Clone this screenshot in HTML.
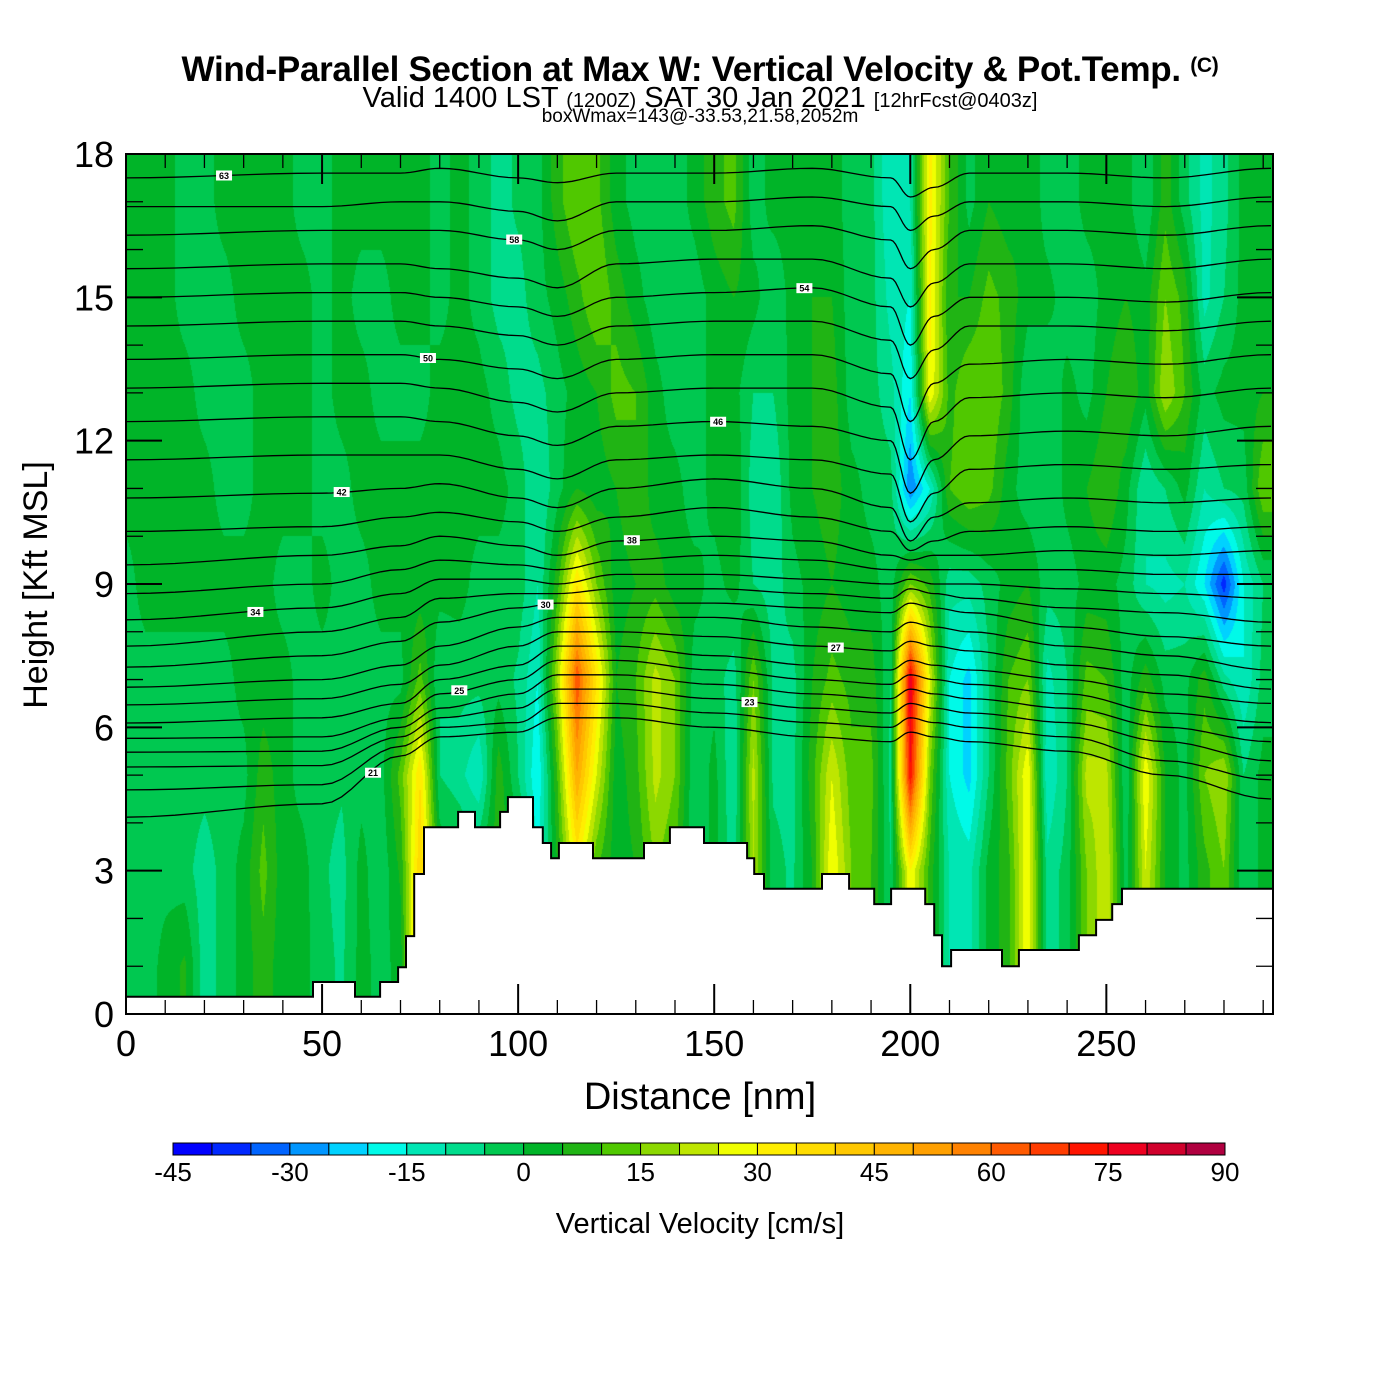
<!DOCTYPE html>
<html><head><meta charset="utf-8">
<style>
html,body{margin:0;padding:0;background:#fff;}
body{width:1400px;height:1400px;position:relative;overflow:hidden;font-family:"Liberation Sans",Arial,sans-serif;}
.t{position:absolute;white-space:nowrap;color:#000;}
</style></head>
<body>
<div class="t" style="left:0;width:1400px;top:50px;text-align:center;font-weight:bold;font-size:35px;letter-spacing:-0.3px;">Wind-Parallel Section at Max W: Vertical Velocity &amp; Pot.Temp. <span style="font-size:21px;vertical-align:9px;">(C)</span></div>
<div class="t" style="left:0;width:1400px;top:82px;text-align:center;font-size:29px;line-height:32px;">Valid 1400 LST <span style="font-size:20px">(1200Z)</span> SAT 30 Jan 2021 <span style="font-size:20px">[12hrFcst@0403z]</span></div>
<div class="t" style="left:0;width:1400px;top:107px;text-align:center;font-size:19px;line-height:20px;">boxWmax=143@-33.53,21.58,2052m</div>

<svg id="chart" width="1400" height="1400" style="position:absolute;left:0;top:0" xmlns="http://www.w3.org/2000/svg">
  <foreignObject x="126" y="154" width="1147" height="860"><canvas id="field" width="1147" height="860" xmlns="http://www.w3.org/1999/xhtml"></canvas></foreignObject>
  <g id="isentropes"></g>
  <g id="terrain"></g>
  <g id="ticks"></g>
  <rect x="126" y="154" width="1147" height="860" fill="none" stroke="#000" stroke-width="2"/>
  <g id="labels" font-family="Liberation Sans, Arial, sans-serif"></g>
  <g id="colorbar"></g>
  <text x="700" y="1109" text-anchor="middle" font-size="38" font-family="Liberation Sans, Arial, sans-serif">Distance [nm]</text>
  <text x="0" y="0" transform="translate(47,585) rotate(-90)" text-anchor="middle" font-size="34" font-family="Liberation Sans, Arial, sans-serif">Height [Kft MSL]</text>
  <text x="700" y="1233" text-anchor="middle" font-size="29" font-family="Liberation Sans, Arial, sans-serif">Vertical Velocity [cm/s]</text>
</svg>

<script>
// ---- data ----
const distances = [0,5,10,15,20,25,30,35,40,45,50,55,60,65,70,75,80,85,90,95,100,105,110,115,120,125,130,135,140,145,150,155,160,165,170,175,180,185,190,195,200,205,210,215,220,225,230,235,240,245,250,255,260,265,270,275,280,285,290];
const heights = [1,3,5,7,9,11,13,15,17];
// vertical velocity (cm/s) per distance column, values at the heights above
const wByDistance = [
[-2,-2,-2,-2,-2,2,2,2,2],[-3,-2,-2,-2,2,2,2,2,2],[2,-2,-2,-2,2,2,2,2,2],[6,-3,-2,-2,2,2,2,-2,-2],
[-8,-8,-3,-2,2,2,-2,-2,-2],[-3,-3,-2,-2,2,-2,-2,-2,2],[2,2,-2,2,2,-2,-2,2,2],[8,12,8,2,2,2,2,2,2],
[2,2,2,2,-2,2,2,2,2],[2,2,-2,-2,-2,2,2,2,-2],[-3,-4,-3,-2,2,-2,-2,-2,-2],[-6,-7,-4,-2,-2,-2,2,2,2],
[2,2,-2,-2,-2,2,2,-2,2],[-2,-4,-2,-2,2,2,-2,-2,2],[2,6,12,-2,2,2,-2,2,2],[45,40,35,12,2,2,-2,2,2],
[5,5,-5,-5,2,2,2,-2,-2],[2,2,-8,-3,2,2,2,2,2],[2,2,-15,-3,-2,2,2,-2,-2],[8,8,8,-2,-2,2,-2,-7,-7],
[5,5,-5,-6,-2,-2,-7,-7,-4],[-15,-15,-20,-15,-10,-10,-7,-2,-2],[5,5,10,20,8,-2,-2,2,8],[30,30,50,65,35,5,2,8,15],
[10,10,25,35,15,2,5,15,12],[2,2,2,5,2,5,12,8,2],[5,5,8,10,5,10,10,2,-2],[15,15,22,22,8,2,2,-3,-3],
[10,10,15,15,2,2,-3,-3,-3],[-5,-5,-5,-3,2,-3,-3,-3,2],[2,2,2,-2,-2,2,2,2,8],[-8,-8,-10,-8,2,5,2,5,12],
[20,20,22,15,-5,-8,-5,2,-3],[-3,-3,-6,-6,-8,-10,-5,-4,2],[-6,-6,-7,-7,-2,2,2,2,2],[5,5,8,5,2,5,5,5,2],
[30,30,25,12,5,8,8,5,2],[15,15,12,8,2,2,-3,-3,-2],[10,10,12,8,2,-2,-3,-3,-3],[-5,-5,-7,-5,-3,-3,-8,-12,-15],
[30,30,75,80,15,-30,-20,-15,-10],[8,8,15,25,8,-15,30,32,32],[-10,-10,-15,-15,-8,10,8,5,10],[-12,-12,-22,-22,-8,15,15,5,-2],
[2,2,-5,-5,-3,12,15,12,5],[8,8,12,10,2,2,8,8,2],[30,30,30,15,5,-3,-5,2,5],[-8,-8,-15,-12,-3,-5,-5,2,-3],
[-3,-3,-5,-5,-3,2,2,-3,-3],[15,15,22,12,2,5,-2,-3,2],[25,25,22,10,2,10,5,2,2],[-3,-3,-5,-3,-2,2,10,5,2],
[25,25,30,8,-10,-10,2,2,-5],[5,5,5,-2,-12,-5,20,15,8],[-2,-2,-2,-2,-10,2,10,8,-3],[8,8,15,8,-20,-10,-2,-12,-12],
[15,15,20,-8,-38,-5,2,-5,-7],[-5,-5,-5,-15,-15,-3,2,2,2],[2,2,2,-3,-5,15,5,2,2]
];
// terrain: step segments starting at these distances (nm) with heights (kft)
const terrainStart = [0,47.7,58.4,64.8,69.4,71.4,73.5,76.0,84.7,89.0,95.4,97.4,103.8,106.3,108.4,110.4,119.1,132.1,138.7,147.4,158.4,160.2,162.7,177.5,184.4,190.8,195.1,203.8,206.1,208.1,210.4,223.4,227.7,243.0,247.4,251.5,254.0];
const terrainHeight = [0.36,0.67,0.36,0.67,0.98,1.63,2.93,3.91,4.23,3.91,4.23,4.54,3.91,3.58,3.26,3.58,3.26,3.58,3.91,3.58,3.26,2.93,2.62,2.93,2.62,2.30,2.62,2.30,1.65,1.00,1.34,1.00,1.34,1.65,1.97,2.30,2.62];
// isentrope anchor distances and heights
const isoAnchors = [0,50,70,80,100,110,125,150,175,195,200,206,215,240,265,292];
const isentropes = [
[17.5,17.6,17.6,17.7,17.5,17.4,17.6,17.6,17.7,17.5,17.1,17.3,17.6,17.6,17.5,17.7],
[16.9,16.9,17.0,17.0,16.8,16.6,17.0,17.0,17.1,16.9,16.4,16.7,17.0,17.0,16.9,17.1],
[16.3,16.4,16.4,16.4,16.2,16.0,16.4,16.4,16.5,16.2,15.6,16.0,16.4,16.4,16.3,16.5],
[15.6,15.7,15.7,15.6,15.4,15.2,15.7,15.8,15.8,15.4,14.8,15.3,15.7,15.7,15.6,15.8],
[15.0,15.1,15.1,15.0,14.8,14.6,15.0,15.1,15.2,14.8,14.0,14.6,15.0,15.0,14.9,15.1],
[14.4,14.5,14.5,14.4,14.2,14.0,14.4,14.5,14.5,14.1,13.3,13.9,14.4,14.4,14.3,14.5],
[13.7,13.8,13.8,13.7,13.5,13.3,13.7,13.8,13.8,13.4,12.4,13.2,13.6,13.7,13.6,13.8],
[13.1,13.2,13.2,13.1,12.8,12.6,13.0,13.1,13.1,12.7,11.6,12.4,12.9,13.0,12.9,13.1],
[12.4,12.5,12.5,12.4,12.1,11.9,12.3,12.4,12.3,12.0,10.9,11.6,12.1,12.2,12.1,12.3],
[11.6,11.7,11.7,11.7,11.4,11.2,11.6,11.7,11.6,11.3,10.3,10.9,11.4,11.5,11.4,11.5],
[10.8,10.9,11.0,11.1,10.8,10.6,11.0,11.2,11.0,10.6,9.9,10.4,10.7,10.8,10.7,10.8],
[10.1,10.2,10.4,10.5,10.3,10.1,10.4,10.6,10.4,10.1,9.7,9.9,10.1,10.2,10.1,10.2],
[9.4,9.6,9.8,10.0,9.8,9.6,9.9,10.0,9.9,9.6,9.5,9.6,9.6,9.7,9.6,9.7],
[8.8,9.0,9.3,9.5,9.4,9.3,9.5,9.6,9.5,9.3,9.3,9.3,9.3,9.3,9.2,9.2],
[8.25,8.5,8.8,9.1,9.1,9.0,9.2,9.2,9.1,9.0,9.1,9.0,9.0,8.9,8.8,8.7],
[7.7,8.0,8.3,8.7,8.8,8.8,8.9,8.9,8.8,8.7,8.9,8.8,8.7,8.5,8.4,8.2],
[7.26,7.5,7.8,8.2,8.5,8.6,8.6,8.6,8.5,8.4,8.6,8.5,8.4,8.1,7.9,7.7],
[6.84,7.0,7.3,7.7,8.1,8.3,8.3,8.3,8.1,8.0,8.2,8.1,8.0,7.7,7.5,7.2],
[6.47,6.6,6.9,7.3,7.7,8.0,8.0,7.9,7.7,7.6,7.8,7.7,7.6,7.3,7.1,6.8],
[6.09,6.2,6.5,7.0,7.3,7.7,7.7,7.5,7.3,7.2,7.4,7.3,7.2,7.0,6.7,6.5],
[5.77,5.8,6.2,6.7,7.0,7.4,7.4,7.2,7.0,6.9,7.1,7.0,6.9,6.7,6.3,6.1],
[5.48,5.5,6.0,6.4,6.7,7.1,7.1,6.9,6.7,6.6,6.8,6.7,6.6,6.4,6.0,5.7],
[5.17,5.2,5.8,6.2,6.4,6.8,6.8,6.6,6.4,6.3,6.5,6.4,6.3,6.1,5.7,5.3],
[4.69,4.8,5.6,6.0,6.1,6.5,6.5,6.3,6.1,6.0,6.2,6.1,6.0,5.8,5.3,4.9],
[4.12,4.4,5.4,5.8,5.9,6.2,6.2,6.0,5.8,5.7,5.9,5.8,5.7,5.5,5.0,4.5]
];
const isoLabels = ["63","60","58","56","54","52","50","48","46","44","42","40","38","36","34","32","30","28","27","26","25","24","23","22","21"];
const xTicks = [0,50,100,150,200,250];
const yTicks = [0,3,6,9,12,15,18];
const cbLevels = [-45,-40,-35,-30,-25,-20,-15,-10,-5,0,5,10,15,20,25,30,35,40,45,50,55,60,65,70,75,80,85,90];
const cbTickLabels = [-45,-30,-15,0,15,30,45,60,75,90];
const cbColors = ["#0000ff","#0028ff","#0064ff","#0096ff","#00d2ff","#00fae8","#00e6b4","#00dc8c","#00c850","#00b428","#20b414","#50c800","#8cd800","#bee600","#f0ff00","#ffee00","#ffdc00","#ffc800","#ffb400","#ffa000","#ff8200","#ff5a00","#ff3c00","#ff1400","#ee0020","#d0002c","#b00040"];

// ---- axes ----
const PX0=126, PX1=1273, PY0=154, PY1=1014, DMAX=292.5, HMAX=18;
const xs = d => PX0 + d*(PX1-PX0)/DMAX;
const ys = h => PY1 - h*(PY1-PY0)/HMAX;
const NS="http://www.w3.org/2000/svg";
function mk(tag, attrs, parent){const e=document.createElementNS(NS,tag);for(const k in attrs)e.setAttribute(k,attrs[k]);parent.appendChild(e);return e;}

// ---- field ----
const cv=document.getElementById('field');


const ctx=cv.getContext('2d');
const W=cv.width,H=cv.height,img=ctx.createImageData(W,H);
const rgb=cbColors.map(c=>[parseInt(c.substr(1,2),16),parseInt(c.substr(3,2),16),parseInt(c.substr(5,2),16)]);
function wAt(d,h){
  let fi=(d-distances[0])/(distances[1]-distances[0]); fi=Math.max(0,Math.min(distances.length-1.0001,fi));
  let fj=(h-heights[0])/(heights[1]-heights[0]); fj=Math.max(0,Math.min(heights.length-1.0001,fj));
  const i=Math.floor(fi),j=Math.floor(fj),a=fi-i,b=fj-j;
  const c=wByDistance;
  return (1-a)*(1-b)*c[i][j]+a*(1-b)*c[i+1][j]+(1-a)*b*c[i][j+1]+a*b*c[i+1][j+1];
}
for(let py=0;py<H;py++){
  const h=HMAX*(1-(py+0.5)/H);
  for(let px=0;px<W;px++){
    const d=DMAX*(px+0.5)/W;
    const v=wAt(d,h);
    let k=Math.floor((v-cbLevels[0])/5); k=Math.max(0,Math.min(cbColors.length-1,k));
    const o=(py*W+px)*4, c=rgb[k];
    img.data[o]=c[0];img.data[o+1]=c[1];img.data[o+2]=c[2];img.data[o+3]=255;
  }
}
ctx.putImageData(img,0,0);

// ---- isentropes ----
const gIso=document.getElementById('isentropes');
isentropes.forEach((line,li)=>{
  let pts=[];
  for(let k=0;k<isoAnchors.length-1;k++){
    for(let s=0;s<8;s++){
      const t=s/8, d=isoAnchors[k]+t*(isoAnchors[k+1]-isoAnchors[k]);
      const tt=(1-Math.cos(Math.PI*t))/2;
      const h=line[k]+(line[k+1]-line[k])*tt;
      pts.push(xs(d).toFixed(1)+','+ys(h).toFixed(1));
    }
  }
  pts.push(xs(isoAnchors[isoAnchors.length-1]).toFixed(1)+','+ys(line[line.length-1]).toFixed(1));
  const p=mk('polyline',{points:pts.join(' '),fill:'none',stroke:'#000','stroke-width':1.3},gIso);
  
  
  if(li%2===0){
    const ld = 25 + (li*37)%170;
    let k=0; while(isoAnchors[k+1]<ld)k++;
    const t=(ld-isoAnchors[k])/(isoAnchors[k+1]-isoAnchors[k]);
    const h=line[k]+(line[k+1]-line[k])*t;
    const g=mk('g',{},gIso);
    
    
    mk('rect',{x:xs(ld)-8,y:ys(h)-5,width:16,height:10,fill:'#fff'},g);
    const tx=mk('text',{x:xs(ld),y:ys(h)+3.5,'font-size':9,'font-weight':'bold','text-anchor':'middle','font-family':'Liberation Sans, Arial, sans-serif'},g);
    tx.textContent=isoLabels[li];
  }
});

// ---- terrain ----
const gT=document.getElementById('terrain');
let tp=[[xs(0),ys(0)]];
for(let i=0;i<terrainStart.length;i++){
  const d0=terrainStart[i], d1=(i+1<terrainStart.length)?terrainStart[i+1]:DMAX;
  tp.push([xs(d0),ys(terrainHeight[i])]); tp.push([xs(d1),ys(terrainHeight[i])]);
}
tp.push([xs(DMAX),ys(0)]);
const terr=mk('polygon',{points:tp.map(p=>p[0].toFixed(1)+','+p[1].toFixed(1)).join(' '),fill:'#fff',stroke:'#000','stroke-width':2,'stroke-linejoin':'miter'},gT);



// ---- ticks & labels ----
const gK=document.getElementById('ticks'), gL=document.getElementById('labels');
for(let d=0;d<=290;d+=10){
  const major=d%50===0, len=major?30:14, x=xs(d);
  const t1=mk('line',{x1:x,y1:PY1,x2:x,y2:PY1-len,stroke:'#000','stroke-width':major?2:1.3},gK);
   
  const t2=mk('line',{x1:x,y1:PY0,x2:x,y2:PY0+len,stroke:'#000','stroke-width':major?2:1.3},gK);
   
}
for(let h=0;h<=18;h+=1){
  const major=h%3===0, len=major?36:17, y=ys(h);
  const t1=mk('line',{x1:PX0,y1:y,x2:PX0+len,y2:y,stroke:'#000','stroke-width':major?2:1.3},gK);
   
  const t2=mk('line',{x1:PX1,y1:y,x2:PX1-len,y2:y,stroke:'#000','stroke-width':major?2:1.3},gK);
   
}
xTicks.forEach(v=>{const t=mk('text',{x:xs(v),y:1056,'font-size':36,'text-anchor':'middle'},gL);t.textContent=v;
   });
yTicks.forEach(v=>{const t=mk('text',{x:114,y:ys(v)+13,'font-size':36,'text-anchor':'end'},gL);t.textContent=v;
   });

// ---- colorbar ----
const gC=document.getElementById('colorbar');
const CB0=173, CB1=1225, cbx=v=>CB0+(v-cbLevels[0])*(CB1-CB0)/(cbLevels[cbLevels.length-1]-cbLevels[0]);
cbColors.forEach((c,i)=>{
  const r=mk('rect',{x:cbx(cbLevels[i]),y:1143,width:cbx(cbLevels[i+1])-cbx(cbLevels[i]),height:12,fill:c,stroke:'#000','stroke-width':1},gC);
   
});
cbTickLabels.forEach(v=>{const t=mk('text',{x:cbx(v),y:1181,'font-size':26,'text-anchor':'middle','font-family':'Liberation Sans, Arial, sans-serif'},gC);t.textContent=v;
   });
</script>
</body></html>
